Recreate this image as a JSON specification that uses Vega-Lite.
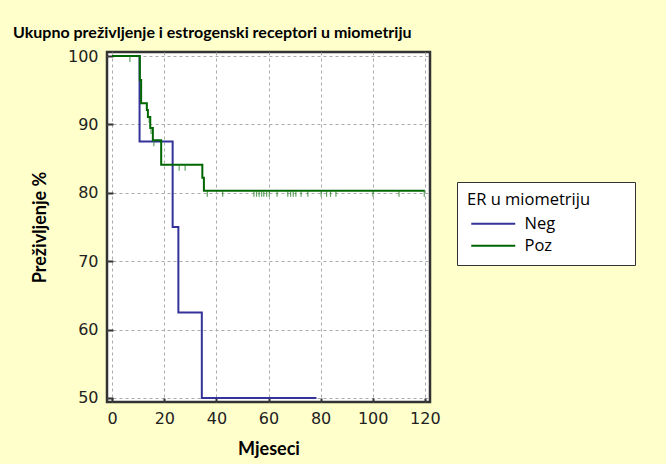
{
  "$schema": "https://vega.github.io/schema/vega-lite/v6.json",
  "width": 323,
  "height": 350,
  "autosize": {"type": "none"},
  "padding": {"left": 107, "top": 52, "right": 236, "bottom": 62},
  "background": "#FFFFCC",
  "title": {
    "text": "Ukupno preživljenje i estrogenski receptori u miometriju",
    "anchor": "start",
    "frame": "group",
    "dx": -94,
    "offset": 7,
    "font": "Lato",
    "fontSize": 16,
    "fontWeight": "bold",
    "color": "#000000"
  },
  "config": {
    "view": {"fill": "white", "stroke": "#333333", "strokeWidth": 2.5},
    "axis": {
      "labelFont": "DejaVu Sans",
      "labelFontSize": 16,
      "labelColor": "#222222",
      "titleFont": "Lato",
      "titleFontSize": 18,
      "titleFontWeight": "bold",
      "titleColor": "#000000",
      "domain": false,
      "tickColor": "#333333",
      "tickWidth": 2,
      "gridColor": "#AAAAAA",
      "gridDash": [3, 3],
      "gridWidth": 1
    }
  },
  "datasets": {
    "curves": [
      {"group": "Neg", "month": 0, "surv": 100},
      {"group": "Neg", "month": 10.5, "surv": 87.5},
      {"group": "Neg", "month": 23.2, "surv": 75},
      {"group": "Neg", "month": 25.4, "surv": 62.5},
      {"group": "Neg", "month": 34.4, "surv": 50},
      {"group": "Neg", "month": 78.4, "surv": 50},
      {"group": "Poz", "month": 0, "surv": 100},
      {"group": "Poz", "month": 10.6, "surv": 96.5},
      {"group": "Poz", "month": 11.1, "surv": 93.1},
      {"group": "Poz", "month": 13.3, "surv": 92.1},
      {"group": "Poz", "month": 13.7, "surv": 91.1},
      {"group": "Poz", "month": 14.6, "surv": 89.5},
      {"group": "Poz", "month": 15.6, "surv": 87.7},
      {"group": "Poz", "month": 18.8, "surv": 84.1},
      {"group": "Poz", "month": 34.6, "surv": 82.2},
      {"group": "Poz", "month": 35.2, "surv": 80.3},
      {"group": "Poz", "month": 120, "surv": 80.3}
    ],
    "censored": [
      {"month": 6.8, "surv": 100},
      {"month": 14.2, "surv": 91.1},
      {"month": 14.9, "surv": 89.5},
      {"month": 16.0, "surv": 87.7},
      {"month": 25.7, "surv": 84.1},
      {"month": 28.0, "surv": 84.1},
      {"month": 36.5, "surv": 80.3},
      {"month": 42.4, "surv": 80.3},
      {"month": 54.4, "surv": 80.3},
      {"month": 55.4, "surv": 80.3},
      {"month": 56.4, "surv": 80.3},
      {"month": 57.4, "surv": 80.3},
      {"month": 58.2, "surv": 80.3},
      {"month": 59.3, "surv": 80.3},
      {"month": 60.3, "surv": 80.3},
      {"month": 63.3, "surv": 80.3},
      {"month": 67.4, "surv": 80.3},
      {"month": 68.5, "surv": 80.3},
      {"month": 69.5, "surv": 80.3},
      {"month": 70.5, "surv": 80.3},
      {"month": 72.5, "surv": 80.3},
      {"month": 75.1, "surv": 80.3},
      {"month": 80.2, "surv": 80.3},
      {"month": 82.3, "surv": 80.3},
      {"month": 83.8, "surv": 80.3},
      {"month": 85.9, "surv": 80.3},
      {"month": 100.1, "surv": 80.3},
      {"month": 110.1, "surv": 80.3},
      {"month": 119.8, "surv": 80.3}
    ]
  },
  "layer": [
    {
      "data": {"name": "curves"},
      "mark": {"type": "line", "interpolate": "step-after", "strokeWidth": 2},
      "encoding": {
        "x": {
          "field": "month",
          "type": "quantitative",
          "title": "Mjeseci",
          "scale": {"domain": [-2, 122], "nice": false, "zero": false},
          "axis": {
            "values": [0, 20, 40, 60, 80, 100, 120],
            "tickSize": -4,
            "labelPadding": 12,
            "titlePadding": 14
          }
        },
        "y": {
          "field": "surv",
          "type": "quantitative",
          "title": "Preživljenje %",
          "scale": {"domain": [49.4, 100.6], "nice": false, "zero": false},
          "axis": {
            "values": [50, 55, 60, 65, 70, 75, 80, 85, 90, 95, 100],
            "labelExpr": "datum.value % 10 === 0 ? datum.label : ''",
            "tickSize": {"condition": {"test": "datum.value % 10 === 0", "value": -6}, "value": -3},
            "gridOpacity": {"condition": {"test": "datum.value % 10 === 0", "value": 1}, "value": 0},
            "labelPadding": 15,
            "titlePadding": 18
          }
        },
        "color": {
          "field": "group",
          "type": "nominal",
          "scale": {"domain": ["Neg", "Poz"], "range": ["#333399", "#006600"]},
          "legend": {
            "title": "ER u miometriju\u00a0\u00a0\u00a0\u00a0\u00a0\u00a0\u00a0\u00a0\u200b",
            "orient": "none",
            "legendX": 350,
            "legendY": 130,
            "fillColor": "white",
            "strokeColor": "#333333",
            "padding": 10,
            "titleFont": "Open Sans",
            "titleFontSize": 16.5,
            "titleFontWeight": "normal",
            "titleColor": "#000000",
            "titlePadding": 7,
            "labelFont": "Open Sans",
            "labelFontSize": 16.5,
            "labelColor": "#000000",
            "rowPadding": 5,
            "symbolType": "M-4,0H4",
            "symbolSize": 121,
            "symbolStrokeWidth": 2,
            "symbolOffset": 18,
            "labelOffset": 23
          }
        }
      }
    },
    {
      "data": {"name": "censored"},
      "mark": {"type": "tick", "orient": "vertical", "color": "#1E7B1E", "thickness": 1.2, "size": 6, "yOffset": 3},
      "encoding": {
        "x": {"field": "month", "type": "quantitative"},
        "y": {"field": "surv", "type": "quantitative"}
      }
    }
  ]
}
